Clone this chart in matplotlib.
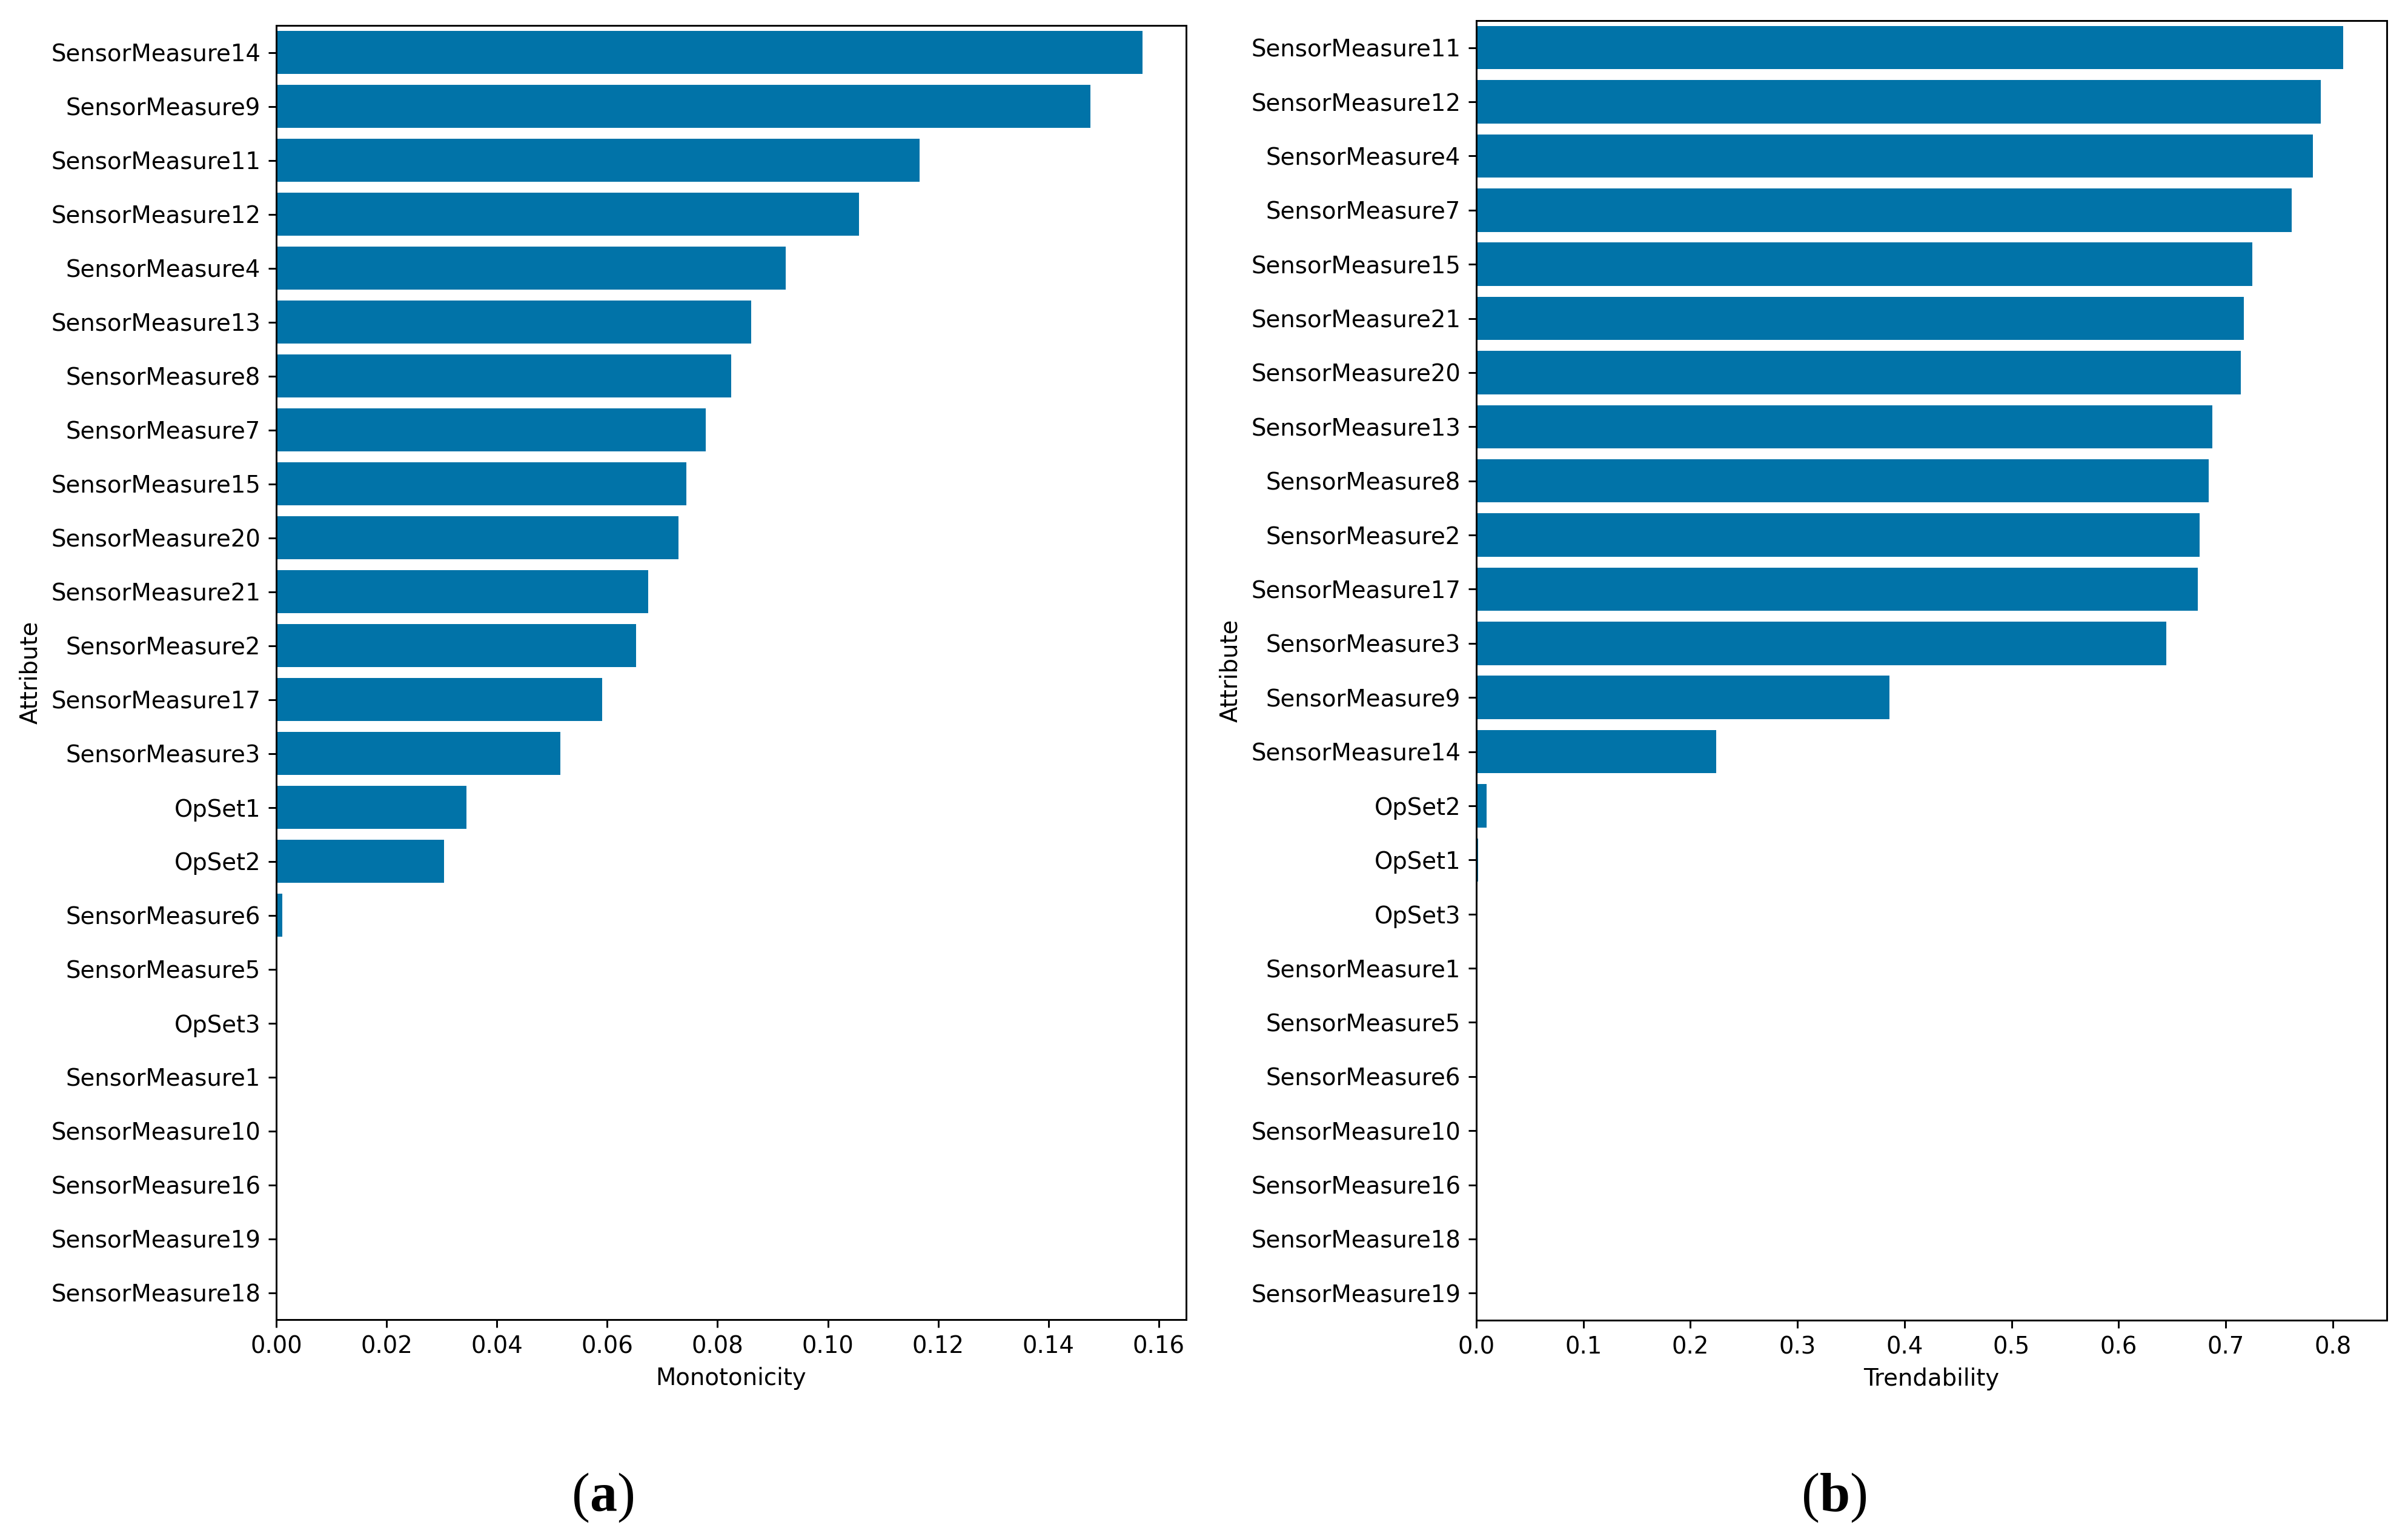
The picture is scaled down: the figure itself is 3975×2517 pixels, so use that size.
import matplotlib
matplotlib.use("Agg")
import matplotlib.pyplot as plt

# Panel (a): Monotonicity
mono_labels = ["SensorMeasure14", "SensorMeasure9", "SensorMeasure11", "SensorMeasure12",
               "SensorMeasure4", "SensorMeasure13", "SensorMeasure8", "SensorMeasure7",
               "SensorMeasure15", "SensorMeasure20", "SensorMeasure21", "SensorMeasure2",
               "SensorMeasure17", "SensorMeasure3", "OpSet1", "OpSet2", "SensorMeasure6",
               "SensorMeasure5", "OpSet3", "SensorMeasure1", "SensorMeasure10",
               "SensorMeasure16", "SensorMeasure19", "SensorMeasure18"]
mono_values = [0.1571, 0.1476, 0.1166, 0.1056, 0.0924, 0.0861, 0.0825, 0.0779,
               0.0744, 0.0729, 0.0674, 0.0652, 0.0591, 0.0515, 0.0345, 0.0304, 0.0011,
               0.0, 0.0, 0.0, 0.0, 0.0, 0.0, 0.0]

# Panel (b): Trendability
trend_labels = ["SensorMeasure11", "SensorMeasure12", "SensorMeasure4", "SensorMeasure7",
                "SensorMeasure15", "SensorMeasure21", "SensorMeasure20", "SensorMeasure13",
                "SensorMeasure8", "SensorMeasure2", "SensorMeasure17", "SensorMeasure3",
                "SensorMeasure9", "SensorMeasure14", "OpSet2", "OpSet1", "OpSet3",
                "SensorMeasure1", "SensorMeasure5", "SensorMeasure6", "SensorMeasure10",
                "SensorMeasure16", "SensorMeasure18", "SensorMeasure19"]
trend_values = [0.810, 0.789, 0.7815, 0.7614, 0.725, 0.7168, 0.7144, 0.6876,
                0.684, 0.6758, 0.6737, 0.6445, 0.386, 0.224, 0.0096, 0.0017, 0.0,
                0.0, 0.0, 0.0, 0.0, 0.0, 0.0, 0.0]

BAR_COLOR = "#0173a8"
W, H = 3975, 2517
DPI = 265

plt.rcParams["font.family"] = ["DejaVu Sans"]
plt.rcParams["font.size"] = 10.5
plt.rcParams["mathtext.fontset"] = "custom"
plt.rcParams["mathtext.rm"] = "Liberation Serif"
plt.rcParams["mathtext.bf"] = "Liberation Serif:bold"

fig = plt.figure(figsize=(W / DPI, H / DPI), dpi=DPI)
fig.patch.set_facecolor("white")


def panel(rect, labels, values, xlabel):
    ax = fig.add_axes(rect)
    y = list(range(len(labels)))
    ax.barh(y, values, height=0.8, color=BAR_COLOR)
    ax.set_yticks(y)
    ax.set_yticklabels(labels)
    ax.set_ylim(len(labels) - 0.5, -0.5)
    ax.set_xlim(0, max(values) * 1.05)
    ax.set_xlabel(xlabel)
    ax.set_ylabel("Attribute")
    return ax


# pixel-based rects: left, top, right, bottom
def rect(l, t, r, b):
    return [l / W, 1 - b / H, (r - l) / W, (b - t) / H]


ax1 = panel(rect(456, 42, 1958, 2178), mono_labels, mono_values, "Monotonicity")
ax1.set_xticks([0.00, 0.02, 0.04, 0.06, 0.08, 0.10, 0.12, 0.14, 0.16])
ax1.set_xticklabels(["0.00", "0.02", "0.04", "0.06", "0.08", "0.10", "0.12", "0.14", "0.16"])

ax2 = panel(rect(2437, 34, 3940, 2179), trend_labels, trend_values, "Trendability")
ax2.set_xticks([0.0, 0.1, 0.2, 0.3, 0.4, 0.5, 0.6, 0.7, 0.8])
ax2.set_xticklabels(["0.0", "0.1", "0.2", "0.3", "0.4", "0.5", "0.6", "0.7", "0.8"])

fig.text(995 / W, 1 - 2472 / H, r"($\mathbf{a}$)", ha="center", va="center",
         fontsize=24.5, family="Liberation Serif")
fig.text(3027 / W, 1 - 2472 / H, r"($\mathbf{b}$)", ha="center", va="center",
         fontsize=24.5, family="Liberation Serif")

fig.savefig("out.png", dpi=DPI, facecolor="white")
